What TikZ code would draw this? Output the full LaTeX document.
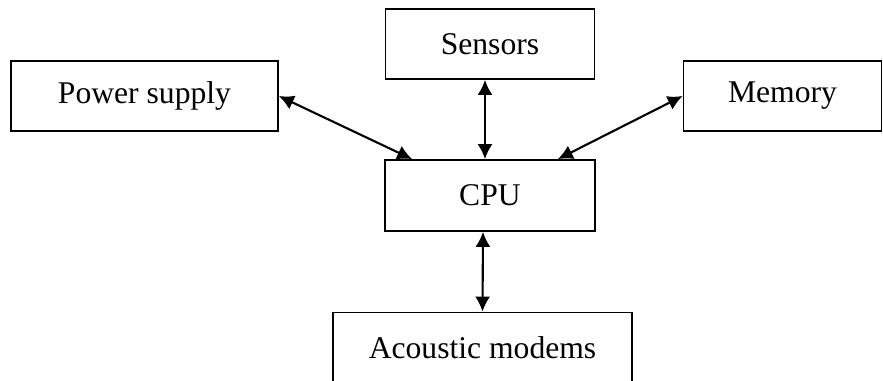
\documentclass[tikz,border=0pt]{standalone}
\usepackage{fontspec}
\setmainfont{Liberation Serif}
\usetikzlibrary{arrows.meta}
\tikzset{
  unit/.style={draw, line width=1pt, font=\fontsize{18}{21}\selectfont,
    minimum height=1.4cm, inner sep=0pt},
  link/.style={{Latex[length=8.5pt,width=8.5pt]}-{Latex[length=8.5pt,width=8.5pt]}, line width=1.2pt}
}
\begin{document}
\begin{tikzpicture}[x=0.02cm,y=-0.02cm]
      \useasboundingbox (0,0) rectangle (883,381);
%
      \node[unit, minimum width=5.34cm] (power) at (144.5,96) {Power supply};
      \node[unit, minimum width=4.18cm] (sensors) at (490,44) {Sensors};
      \node[unit, minimum width=3.96cm] (memory) at (782.5,96) {Memory};
      \node[unit, minimum width=4.2cm, minimum height=1.42cm] (cpu) at (490,195.5) {CPU};
      \node[unit, minimum width=5.98cm] (modems) at (482.5,347.5) {Acoustic modems};
%
      \draw[link] (power.east) -- ([xshift=0.56cm]cpu.north west);
      \draw[link] (memory.west) -- ([xshift=-0.76cm]cpu.north east);
%
      \draw[link] ([xshift=-0.1cm]sensors.south) -- ([xshift=-0.1cm]cpu.north);
      \draw[link] ([xshift=-0.14cm]cpu.south) -- (modems.north);
%
\end{tikzpicture}
\end{document}
